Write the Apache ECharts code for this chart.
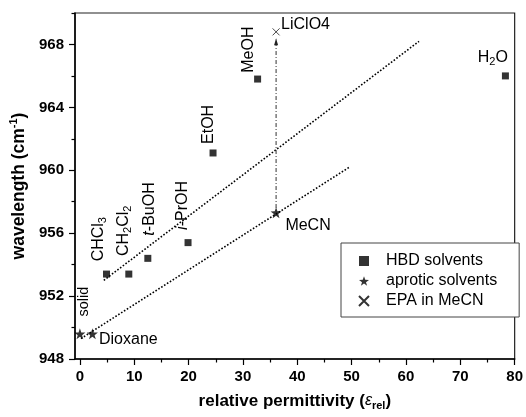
<!DOCTYPE html>
<html><head><meta charset="utf-8">
<script src="https://cdn.jsdelivr.net/npm/echarts@6/dist/echarts.min.js"></script>
<style>html,body{margin:0;padding:0;background:#fff}#c{width:526px;height:417px}</style>
</head><body><div id="c"></div>
<script>
// ---- data ----
const hbdNames = ['CHCl3', 'CH2Cl2', 't-BuOH', 'i-PrOH', 'EtOH', 'MeOH', 'H2O'];
const hbdX = [4.9, 9.0, 12.5, 19.9, 24.5, 32.7, 78.3];
const hbdY = [953.4, 953.4, 954.4, 955.4, 961.1, 965.8, 966.0];
const aproticNames = ['solid', 'Dioxane', 'MeCN'];
const aproticX = [0, 2.3, 36.1];
const aproticY = [949.6, 949.6, 957.3];
const epaNames = ['LiClO4'];
const epaX = [36.1];
const epaY = [968.8];
const fitHbdX = [4.4, 62.4];
const fitHbdY = [953.0, 968.2];
const fitAproticX = [0.2, 49.6];
const fitAproticY = [949.3, 960.2];
const shiftX = [36.1, 36.1];
const shiftY = [957.6, 968.3];
const xTickLabels = [0, 10, 20, 30, 40, 50, 60, 70, 80];
const xMinorTicks = [5, 15, 25, 35, 45, 55, 65, 75];
const yTickLabels = [948, 952, 956, 960, 964, 968];
const yMinorTicks = [950, 954, 958, 962, 966, 970];
const legendNames = ['HBD solvents', 'aprotic solvents', 'EPA in MeCN'];

// ---- styling ----
const FONT = '"Liberation Sans", Arial, Helvetica, sans-serif';
const richText = {
  'CHCl3': '{m|CHCl}{s|3}',
  'CH2Cl2': '{m|CH}{s|2}{m|Cl}{s|2}',
  't-BuOH': '{i|t}{m|-BuOH}',
  'i-PrOH': '{i|i}{m|-PrOH}',
  'H2O': '{m|H}{s|2}{m|O}'
};
const labelLayout = {
  'CHCl3': {dx: -7.8, dy: -12.7, rot: true},
  'CH2Cl2': {dx: -5.7, dy: -18, rot: true},
  't-BuOH': {dx: 1.5, dy: -22.7, rot: true},
  'i-PrOH': {dx: -5.3, dy: -12.7, rot: true},
  'EtOH': {dx: -4, dy: -9, rot: true},
  'MeOH': {dx: -9.3, dy: -6.3, rot: true},
  'solid': {dx: 4.3, dy: -17.3, rot: true, size: 14.5},
  'Dioxane': {dx: 6.6, dy: 6, rot: false},
  'MeCN': {dx: 9.3, dy: 12.7, rot: false},
  'LiClO4': {dx: 5, dy: -7.7, rot: false},
  'H2O': {dx: 2.5, dy: -18, rot: false, align: 'right'}
};
const STAR = 'path://M50,0L61.75,33.8L97.55,34.55L69,56.2L79.4,90.45L50,70L20.6,90.45L31,56.2L2.45,34.55L38.25,33.8Z';
const CROSS = 'path://M0,0L10,10M10,0L0,10';

const zip = (xs, ys) => xs.map((x, i) => [x, ys[i]]);

const chart = echarts.init(document.getElementById('c'), null, {renderer: 'canvas'});
const axisLabelStyle = {fontFamily: FONT, fontWeight: 'bold', fontSize: 15, color: '#000'};

const option = {
  animation: false,
  backgroundColor: '#fff',
  textStyle: {fontFamily: FONT},
  grid: {left: 75, right: 3, top: 13, bottom: 58, show: true, borderColor: '#222', borderWidth: 1.2},
  legend: {
    orient: 'vertical',
    left: 341, top: 243,
    padding: [10, 22, 8, 17],
    itemWidth: 10, itemHeight: 10, itemGap: 4,
    borderColor: '#444', borderWidth: 1,
    backgroundColor: '#fff',
    data: legendNames,
    textStyle: {fontFamily: FONT, fontSize: 16, color: '#000', lineHeight: 16, padding: [0, 0, 0, 12]}
  },
  xAxis: [{
    type: 'value', min: -0.9, max: 80,
    splitLine: {show: false},
    axisLine: {show: true, onZero: false, lineStyle: {color: '#000', width: 1.5}},
    axisTick: {show: true, length: 6, customValues: xTickLabels, lineStyle: {color: '#000', width: 1.2}},
    axisLabel: {customValues: xTickLabels, margin: 10, ...axisLabelStyle},
    name: '{t|relative permittivity (}{e|\u03b5}{r|rel}{t|)}',
    nameLocation: 'middle', nameGap: 32,
    nameTextStyle: {
      rich: {
        t: {fontFamily: FONT, fontWeight: 'bold', fontSize: 17, color: '#000', lineHeight: 20},
        e: {fontFamily: FONT, fontStyle: 'italic', fontWeight: 'normal', fontSize: 16, color: '#000', lineHeight: 20},
        r: {fontFamily: FONT, fontWeight: 'bold', fontSize: 11, color: '#000', lineHeight: 20, verticalAlign: 'bottom'}
      }
    }
  }, {
    type: 'value', min: -0.9, max: 80, position: 'bottom',
    splitLine: {show: false},
    axisLine: {show: false, onZero: false},
    axisTick: {show: true, length: 3.5, customValues: xMinorTicks, lineStyle: {color: '#000', width: 1.2}},
    axisLabel: {show: false}
  }],
  yAxis: [{
    type: 'value', min: 948, max: 970,
    splitLine: {show: false},
    axisLine: {show: true, onZero: false, lineStyle: {color: '#000', width: 1.5}},
    axisTick: {show: true, length: 6, customValues: yTickLabels, lineStyle: {color: '#000', width: 1.2}},
    axisLabel: {customValues: yTickLabels, margin: 11, ...axisLabelStyle},
    name: '{t|wavelength (cm}{s|-1}{t|)}',
    nameLocation: 'middle', nameGap: 39, nameRotate: 90,
    nameTextStyle: {
      rich: {
        t: {fontFamily: FONT, fontWeight: 'bold', fontSize: 17.5, color: '#000', lineHeight: 22},
        s: {fontFamily: FONT, fontWeight: 'bold', fontSize: 11, color: '#000', lineHeight: 22, verticalAlign: 'top'}
      }
    }
  }, {
    type: 'value', min: 948, max: 970, position: 'left',
    splitLine: {show: false},
    axisLine: {show: false, onZero: false},
    axisTick: {show: true, length: 3.5, customValues: yMinorTicks, lineStyle: {color: '#000', width: 1.2}},
    axisLabel: {show: false}
  }],
  series: [
    {
      name: 'fitHBD', type: 'line', showSymbol: false, symbol: 'none', silent: true,
      data: zip(fitHbdX, fitHbdY),
      lineStyle: {color: '#000', width: 1.6, type: [1.6, 1.8]}, z: 1
    },
    {
      name: 'fitAprotic', type: 'line', showSymbol: false, symbol: 'none', silent: true,
      data: zip(fitAproticX, fitAproticY),
      lineStyle: {color: '#000', width: 1.6, type: [1.6, 1.8]}, z: 1
    },
    {
      name: 'shift', type: 'line', showSymbol: true, symbol: ['none', 'none'], silent: true,
      data: zip(shiftX, shiftY), symbolSize: 0,
      lineStyle: {color: '#333', width: 1, type: [4, 2, 1, 2]}, z: 1,
      markPoint: {
        silent: true, symbol: 'triangle', symbolSize: [4, 7], symbolOffset: [0, 2],
        itemStyle: {color: '#222'}, label: {show: false},
        data: [{coord: [shiftX[1], shiftY[1]]}]
      }
    },
    {
      name: legendNames[0], type: 'scatter', symbol: 'rect', symbolSize: 7,
      itemStyle: {color: '#000'}, z: 3,
      data: zip(hbdX, hbdY)
    },
    {
      name: legendNames[1], type: 'scatter', symbol: STAR, symbolSize: 11,
      itemStyle: {color: '#000'}, z: 3,
      data: zip(aproticX, aproticY)
    },
    {
      name: legendNames[2], type: 'scatter', symbol: CROSS, symbolSize: 7,
      itemStyle: {color: 'rgba(0,0,0,0)', borderColor: '#000', borderWidth: 0.9}, z: 3,
      data: zip(epaX, epaY)
    }
  ]
};
chart.setOption(option);

// ---- point labels, placed from data via the chart's scales ----
const richStyles = (size) => ({
  m: {fontFamily: FONT, fontSize: size, fill: '#000', lineHeight: 20},
  i: {fontFamily: FONT, fontSize: size, fontStyle: 'italic', fill: '#000', lineHeight: 20},
  s: {fontFamily: FONT, fontSize: 11, fill: '#000', lineHeight: 20, verticalAlign: 'bottom'}
});
const allLabels = [];
hbdNames.forEach((n, i) => allLabels.push([n, hbdX[i], hbdY[i]]));
aproticNames.forEach((n, i) => allLabels.push([n, aproticX[i], aproticY[i]]));
epaNames.forEach((n, i) => allLabels.push([n, epaX[i], epaY[i]]));

const elements = allLabels.map(([name, x, y]) => {
  const p = chart.convertToPixel({xAxisIndex: 0, yAxisIndex: 0}, [x, y]);
  const lay = labelLayout[name];
  const size = lay.size || 16;
  const txt = richText[name] || ('{m|' + name + '}');
  return {
    type: 'text',
    x: p[0] + lay.dx, y: p[1] + lay.dy,
    rotation: lay.rot ? Math.PI / 2 : 0,
    z: 10,
    style: {
      text: txt, rich: richStyles(size),
      align: lay.align || 'left', verticalAlign: 'middle',
      fontFamily: FONT, fontSize: size, fill: '#000'
    }
  };
});
chart.setOption({graphic: {elements}});
</script>
</body></html>
